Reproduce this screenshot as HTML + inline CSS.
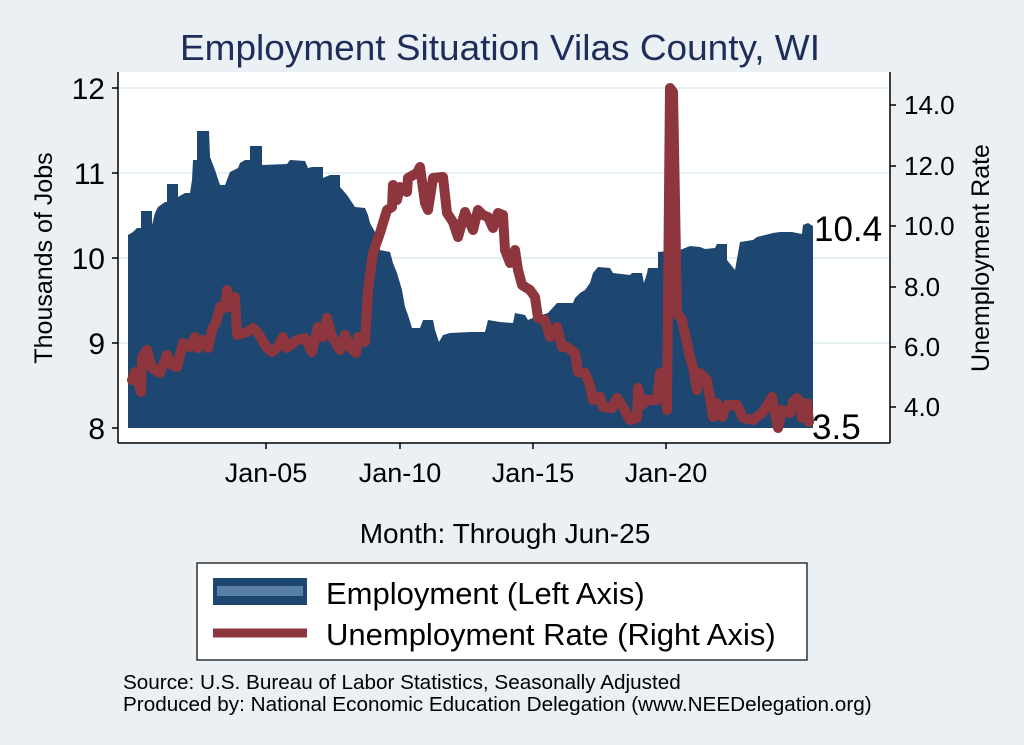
<!DOCTYPE html>
<html><head><meta charset="utf-8"><style>
html,body{margin:0;padding:0;background:#eaf0f3;}
svg{display:block;font-family:"Liberation Sans",Arial,sans-serif;}
</style></head><body>
<svg width="1024" height="745" viewBox="0 0 1024 745">
<rect width="1024" height="745" fill="#eaf0f3"/>
<text x="500" y="60" font-size="36" fill="#1f2d5a" text-anchor="middle" textLength="640" lengthAdjust="spacingAndGlyphs">Employment Situation Vilas  County, WI</text>
<rect x="118" y="72" width="772" height="371" fill="#fff"/>
<g stroke="#e6eff2" stroke-width="2">
<line x1="118" y1="88" x2="890" y2="88"/><line x1="118" y1="173" x2="890" y2="173"/>
<line x1="118" y1="258" x2="890" y2="258"/><line x1="118" y1="343" x2="890" y2="343"/>
</g>
<polygon fill="#1d4670" points="128,428 128,235 133,232 137,228 141,228 141,211 152,211 152,225 155,213 158,207 165,202 167,202 167,184 178,184 178,197 185,193 190,193 192,180 193,160 197,160 197,131 209,131 210,157 215,170 220,185 225,185 230,172 238,168 240,163 245,160 250,160 250,146 262,146 262,165 287,164 290,160 305,161 308,168 312,167 323,167 323,178 330,175 340,175 340,187 347,195 355,207 365,208 368,215 370,223 375,232 380,250 390,252 393,263 397,273 402,290 405,307 408,315 412,328 420,328 423,320 433,320 435,330 439,342 443,335 450,333 470,332 485,332 488,320 500,322 513,323 515,313 525,315 528,320 535,317 548,313 557,303 573,303 575,298 580,293 585,290 590,283 593,273 598,267 610,268 613,273 630,275 632,273 642,273 644,283 647,273 648,268 658,268 658,252 680,250 690,246 700,247 705,249 715,248 717,244 727,244 727,260 735,270 740,242 753,240 757,237 773,233 780,232 792,232 802,234 803,225 808,223 813,226 813,428"/>
<polyline fill="none" stroke="#8d363e" stroke-width="10" stroke-linejoin="round" stroke-linecap="round" points="132,380 135,372 141,392 142,358 147,350 152,368 160,373 167,355 172,365 177,367 183,343 190,347 195,337 198,348 202,340 208,348 212,330 217,320 220,307 225,308 227,290 232,307 235,297 237,335 247,332 253,328 258,333 267,348 272,352 277,348 283,337 287,348 297,340 305,338 312,352 318,327 323,337 327,318 332,337 340,350 345,335 350,347 356,353 358,337 365,342 368,290 373,253 380,233 387,210 392,207 393,185 397,200 400,187 407,192 408,178 417,173 420,167 425,203 428,210 433,178 443,177 447,213 453,222 458,237 465,212 473,230 478,210 483,215 488,217 493,228 498,213 503,215 505,250 510,263 515,250 518,270 522,285 530,290 535,297 538,318 545,320 550,337 557,327 562,347 567,347 575,353 578,372 585,373 590,385 593,400 600,397 603,407 612,408 617,398 623,407 630,420 637,418 638,388 642,405 647,400 657,400 660,373 663,372 667,410 670,88 673,92 677,313 682,320 690,357 693,367 697,390 700,373 707,380 713,417 717,403 722,417 727,405 737,405 743,418 753,420 763,412 772,397 775,413 778,428 782,410 790,413 793,402 797,398 800,402 802,418 807,403 809,422"/>
<g stroke="#000" stroke-width="1.5" fill="none">
<line x1="118" y1="72" x2="118" y2="443"/><line x1="118" y1="443" x2="890" y2="443"/><line x1="890" y1="72" x2="890" y2="443"/>
<line x1="112" y1="88" x2="118" y2="88"/><line x1="112" y1="173" x2="118" y2="173"/><line x1="112" y1="258" x2="118" y2="258"/><line x1="112" y1="343" x2="118" y2="343"/><line x1="112" y1="428" x2="118" y2="428"/>
<line x1="890" y1="105" x2="896" y2="105"/><line x1="890" y1="166" x2="896" y2="166"/><line x1="890" y1="226" x2="896" y2="226"/><line x1="890" y1="287" x2="896" y2="287"/><line x1="890" y1="347" x2="896" y2="347"/><line x1="890" y1="407" x2="896" y2="407"/>
<line x1="266" y1="443" x2="266" y2="449"/><line x1="400" y1="443" x2="400" y2="449"/><line x1="533" y1="443" x2="533" y2="449"/><line x1="666" y1="443" x2="666" y2="449"/>
</g>
<g font-size="30" text-anchor="end" fill="#000">
<text x="105" y="99">12</text><text x="105" y="184">11</text><text x="105" y="269">10</text><text x="105" y="354">9</text><text x="105" y="439">8</text>
</g>
<g font-size="26" fill="#000">
<text x="904" y="114">14.0</text><text x="904" y="175">12.0</text><text x="904" y="235">10.0</text><text x="904" y="296">8.0</text><text x="904" y="356">6.0</text><text x="904" y="416">4.0</text>
</g>
<g font-size="27" text-anchor="middle" fill="#000">
<text x="266" y="482">Jan-05</text><text x="400" y="482">Jan-10</text><text x="533" y="482">Jan-15</text><text x="666" y="482">Jan-20</text>
</g>
<text x="814" y="241" font-size="35">10.4</text>
<text x="812" y="439" font-size="35">3.5</text>
<text transform="translate(52,258) rotate(-90)" font-size="25" text-anchor="middle">Thousands of Jobs</text>
<text transform="translate(989,258) rotate(-90)" font-size="25" text-anchor="middle">Unemployment Rate</text>
<text x="505" y="543" font-size="28" text-anchor="middle">Month: Through Jun-25</text>
<rect x="197" y="563" width="610" height="97" fill="#fff" stroke="#000" stroke-width="1.2"/>
<rect x="213" y="578" width="94" height="27" fill="#1d4670"/>
<rect x="217" y="586" width="86" height="10" fill="#5a7fa6"/>
<line x1="213" y1="633" x2="307" y2="633" stroke="#8d363e" stroke-width="9"/>
<text x="326" y="604" font-size="31">Employment (Left Axis)</text>
<text x="326" y="645" font-size="31">Unemployment Rate (Right Axis)</text>
<text x="123" y="689" font-size="20.7">Source: U.S. Bureau of Labor Statistics, Seasonally Adjusted</text>
<text x="123" y="711" font-size="20.7">Produced by: National Economic Education Delegation (www.NEEDelegation.org)</text>
</svg>
</body></html>
